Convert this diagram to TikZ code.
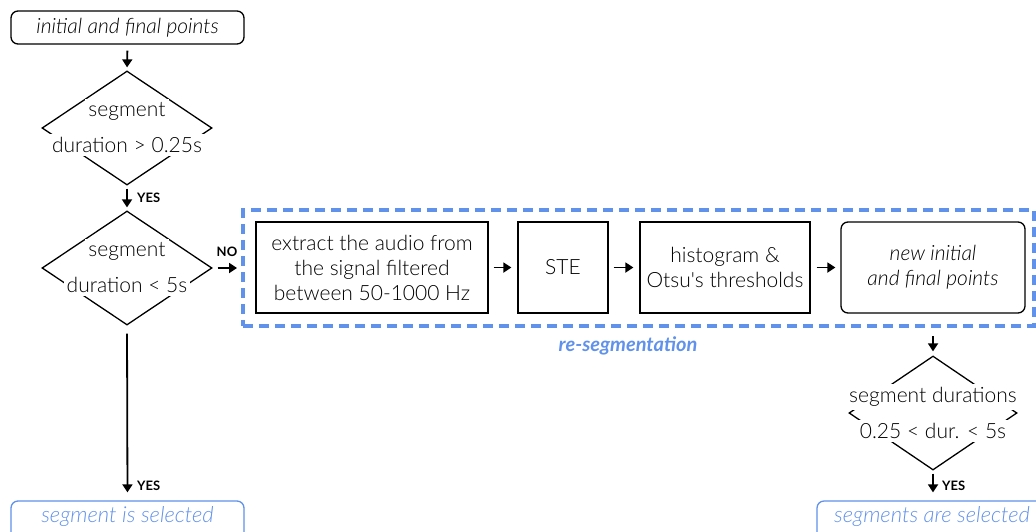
\documentclass[tikz,border=0pt]{standalone}
\usepackage{fontspec}
\setmainfont{Lato}[Ligatures=TeXOff, UprightFont=* Light, ItalicFont=* Light Italic, BoldFont=* Bold, BoldItalicFont=* Bold Italic]
\usetikzlibrary{arrows.meta,shapes.geometric}
\definecolor{rsblue}{RGB}{96,145,235}
\begin{document}
\begin{tikzpicture}[x=1pt,y=-1pt,
  txt/.style={font=\fontsize{21}{25}\selectfont, align=center, inner sep=0pt},
  box/.style={draw=black, line width=1.3pt, txt},
  rbox/.style={box, rounded corners=7pt, font=\fontsize{21}{25}\selectfont\itshape},
  bbox/.style={draw=rsblue, line width=1.3pt, rounded corners=7pt},
  btxt/.style={text=rsblue, font=\fontsize{22}{26}\selectfont\itshape, inner sep=0pt},
  dia/.style={draw=black, line width=1.3pt, shape=diamond, inner sep=0pt},
  diatxt/.style={fill=white, inner sep=3pt, font=\fontsize{21}{25}\selectfont},
  arr/.style={line width=1.8pt, -{Triangle[length=8pt,width=10pt]}},
  lab/.style={font=\fontsize{13}{15}\selectfont\bfseries, inner sep=0pt}
]
\clip (0,0) rectangle (1036,531);
\useasboundingbox (0,0) rectangle (1036,531);

\node[rbox, minimum width=233pt, minimum height=33pt] (top) at (127.5,27.5) {initial and final points};

\node[dia, minimum width=170pt, minimum height=114pt] (d1) at (127,128) {};
\node[diatxt] (d1a) at (127,111) {segment};
\node[diatxt] (d1b) at (127,145) {duration > 0.25s};

\node[dia, minimum width=170pt, minimum height=114pt] (d2) at (127,268) {};
\node[diatxt] (d2a) at (127,251) {segment};
\node[diatxt] (d2b) at (127,285) {duration < 5s};

\node[draw=rsblue, line width=4pt, dash pattern=on 10pt off 6pt, minimum width=791pt, minimum height=116pt, inner sep=0pt] (rs) at (638.5,268) {};

\node[box, minimum width=232pt, minimum height=91pt] (b1) at (372,267.5) {extract the audio from\\the signal filtered\\between 50-1000 Hz};
\node[box, minimum width=90pt, minimum height=91pt] (b2) at (563,267.5) {STE};
\node[box, minimum width=170pt, minimum height=91pt] (b3) at (725,267.5) {histogram \&\\Otsu's thresholds};
\node[rbox, minimum width=184pt, minimum height=91pt] (b4) at (933,267.5) {new initial\\and final points};

\node[text=rsblue, font=\fontsize{20}{24}\selectfont\bfseries\itshape, inner sep=0pt] (rslab) at (628,346) {re-segmentation};

\node[dia, minimum width=168pt, minimum height=114pt] (d3) at (933,413) {};
\node[diatxt] (d3a) at (933,397) {segment durations};
\node[diatxt] (d3b) at (933,431) {0.25 < dur. < 5s};

\node[bbox, minimum width=233pt, minimum height=44pt] (s1) at (127.5,523) {};
\node[btxt] (s1t) at (127.5,517) {segment is selected};
\node[bbox, minimum width=233pt, minimum height=44pt] (s2) at (933.5,523) {};
\node[btxt] (s2t) at (932,517) {segments are selected};

\draw[arr, shorten <=6pt, shorten >=3pt] (top.south) -- (d1.north);
\draw[arr, shorten <=3pt, shorten >=3pt] (d1.south) -- (d2.north);
\node[lab, anchor=west] (y1) at (137,198) {YES};
\draw[arr, shorten <=5pt, shorten >=4pt] (d2.east) -- (rs.west |- d2.east);
\node[lab] (n1) at (227,252) {NO};
\draw[arr, shorten <=5pt, shorten >=6pt] (b1.east) -- (b2.west);
\draw[arr, shorten <=5pt, shorten >=6pt] (b2.east) -- (b3.west);
\draw[arr, shorten <=6pt, shorten >=5pt] (b3.east) -- (b4.west);
\draw[arr, shorten <=8pt, shorten >=4pt] (d3.north |- rs.south) -- (d3.north);
\draw[arr, shorten <=3pt, shorten >=8pt] (d3.south) -- (s2.north -| d3.south);
\node[lab, anchor=west] (y3) at (942,486) {YES};
\draw[arr, shorten <=8pt, shorten >=8pt] (d2.south) -- (s1.north);
\node[lab, anchor=west] (y2) at (137,486) {YES};
\end{tikzpicture}
\end{document}
